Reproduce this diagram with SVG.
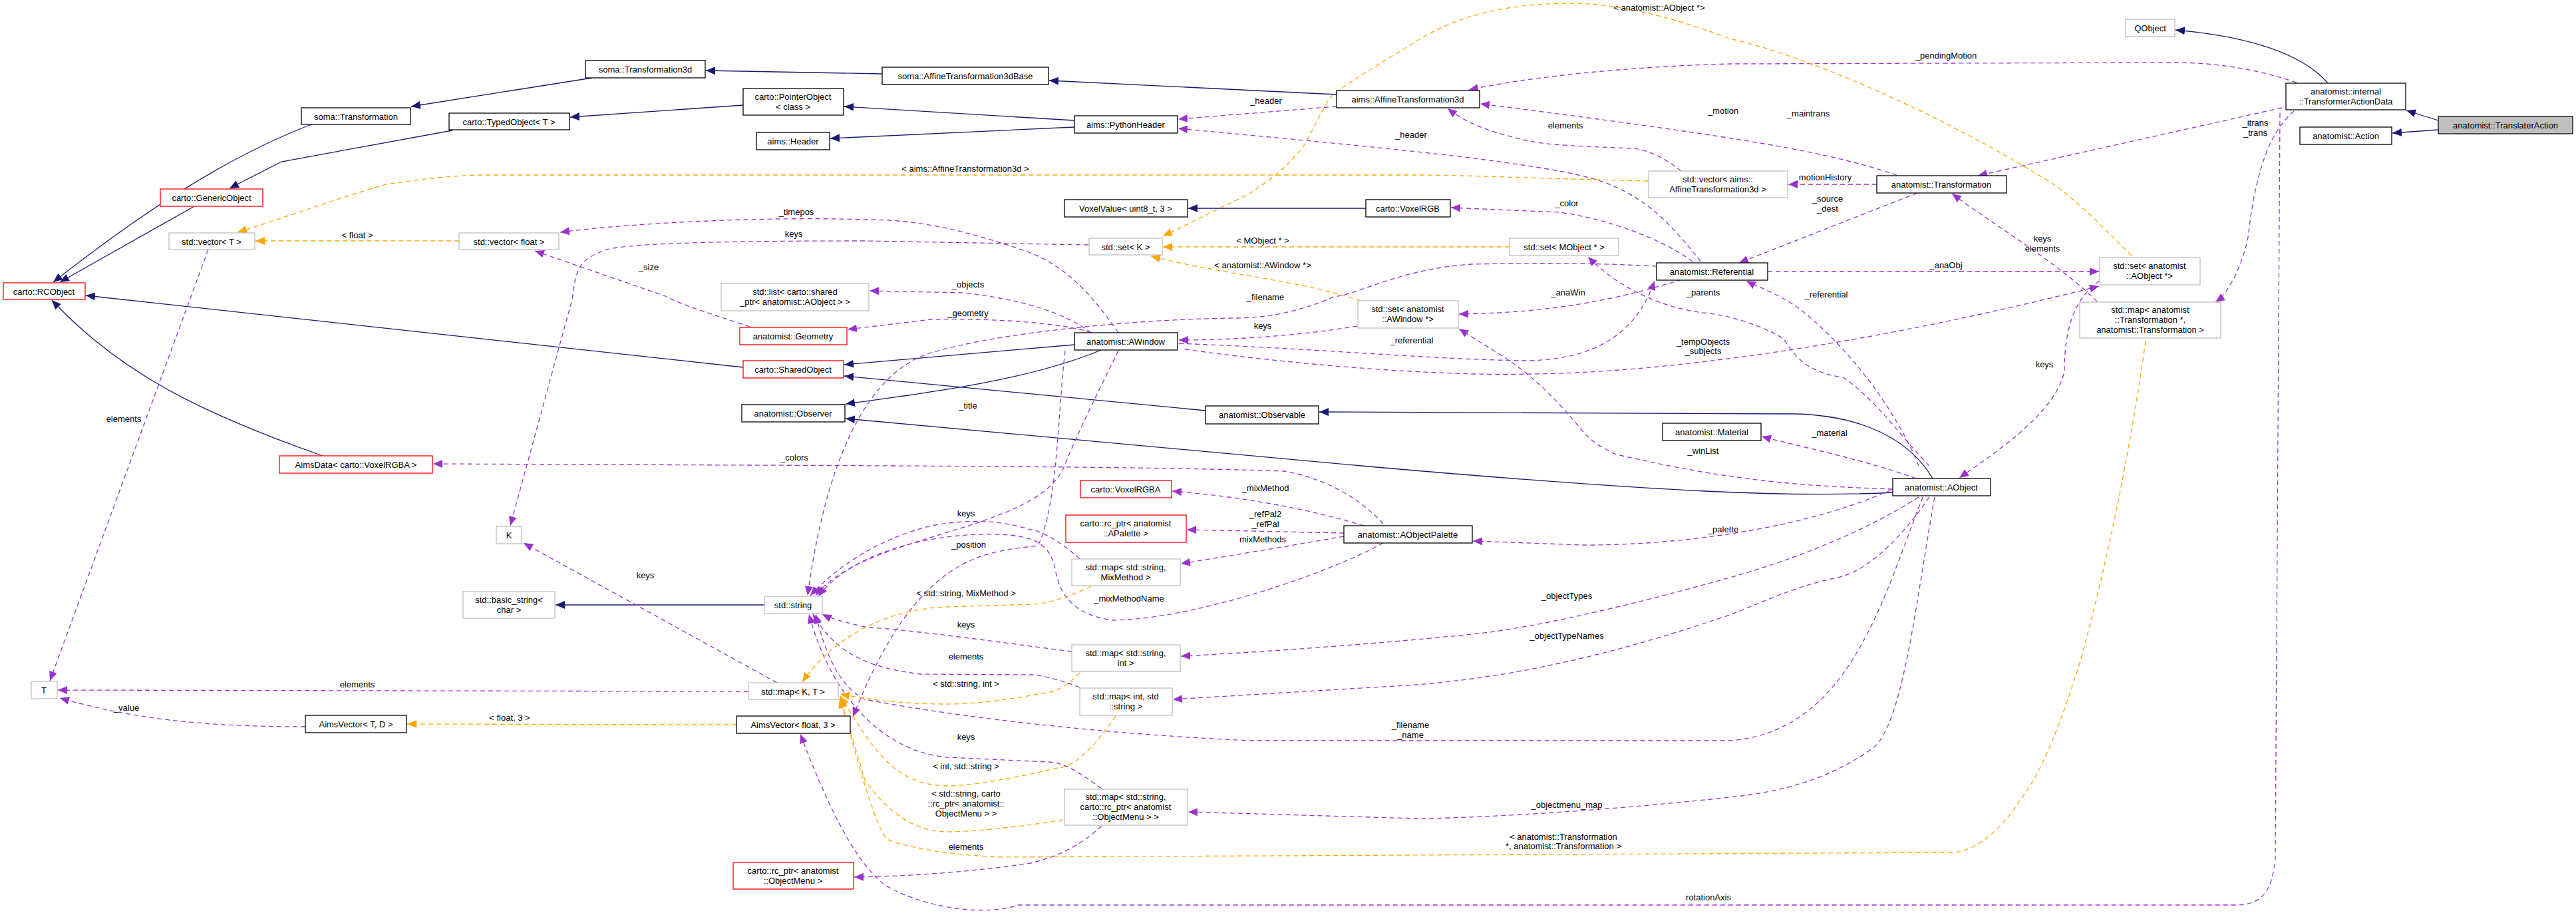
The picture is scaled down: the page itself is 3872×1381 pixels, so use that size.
<svg xmlns="http://www.w3.org/2000/svg" width="3872" height="1381" viewBox="0 0 3872 1381">
<style>
.n rect{fill:#fff;stroke:#000;stroke-width:1.3}
.n.g rect{stroke:#bfbfbf}
.n.r rect{stroke:#ff0000}
.n.sel rect{fill:#bfbfbf}
text{font-family:"Liberation Sans",Arial,sans-serif;font-size:13px;fill:#000}
.n text{text-anchor:middle}
.l{text-anchor:middle}
.e path{fill:none}
.inh{stroke:#191970;stroke-width:1.3;marker-end:url(#mi)}
.use{stroke:#9a32cd;stroke-width:1.3;stroke-dasharray:7,5;marker-end:url(#mu)}
.tpl{stroke:#ffa500;stroke-width:1.3;stroke-dasharray:7,5;marker-end:url(#mt)}
</style>
<defs>
<marker id="mi" markerUnits="userSpaceOnUse" markerWidth="16" markerHeight="12" refX="14" refY="6" orient="auto"><path d="M0,0 L14,6 L0,12 z" fill="#191970"/></marker>
<marker id="mu" markerUnits="userSpaceOnUse" markerWidth="16" markerHeight="12" refX="14" refY="6" orient="auto"><path d="M0,0 L14,6 L0,12 z" fill="#9a32cd"/></marker>
<marker id="mt" markerUnits="userSpaceOnUse" markerWidth="16" markerHeight="12" refX="14" refY="6" orient="auto"><path d="M0,0 L14,6 L0,12 z" fill="#ffa500"/></marker>
</defs>
<rect width="3872" height="1381" fill="#fff"/>
<g id="edges" class="e">
<path class="inh" d="M3665,181 L3617,166"/>
<path class="inh" d="M3665,195 L3596,200"/>
<path class="inh" d="M3499,125 C3460,80 3380,55 3270,45"/>
<path class="inh" d="M2009,142 L1577,121"/>
<path class="inh" d="M1326,111 L1061,106"/>
<path class="inh" d="M890,117 L618,160"/>
<path class="inh" d="M468,187 C330,240 200,330 80,424"/>
<path class="inh" d="M1615,181 L1269,160"/>
<path class="inh" d="M1615,191 L1248,208"/>
<path class="inh" d="M1117,158 L857,176"/>
<path class="inh" d="M680,196 L423,243 L345,283"/>
<path class="inh" d="M292,310 L90,424"/>
<path class="inh" d="M1117,552 L129,444"/>
<path class="inh" d="M485,685 C300,620 180,560 78,451"/>
<path class="inh" d="M2053,313 L1786,313"/>
<path class="inh" d="M1615,518 L1269,548"/>
<path class="inh" d="M1655,526 C1550,570 1400,590 1271,607"/>
<path class="inh" d="M1812,617 L1269,565"/>
<path class="inh" d="M2905,719 C2870,660 2800,625 2700,622 L1983,619"/>
<path class="inh" d="M2845,740 C2700,748 2500,740 2046,700 L1271,629"/>
<path class="inh" d="M1149,909 L835,909"/>
<path class="use" d="M3452,124 C3380,100 3320,94 3265,94 L2600,96 C2450,100 2300,115 2208,135"/>
<path class="use" d="M3430,162 L2973,264"/>
<path class="use" d="M3448,167 C3410,200 3390,260 3379,357 C3370,400 3350,440 3330,454"/>
<path class="use" d="M3427,170 L3420,1290 C3415,1340 3400,1360 3360,1360 L1530,1360 C1490,1375 1400,1370 1330,1330 C1280,1290 1240,1200 1203,1103"/>
<path class="use" d="M2851,263 C2750,230 2650,210 2225,156"/>
<path class="use" d="M2821,277 L2688,277"/>
<path class="use" d="M2882,290 L2614,395"/>
<path class="use" d="M2527,257 C2500,235 2470,223 2452,223 C2400,220 2330,220 2290,210 C2250,200 2210,190 2176,163"/>
<path class="use" d="M2009,160 L1771,179"/>
<path class="use" d="M2556,393 C2500,320 2460,290 2400,270 C2300,240 2000,215 1771,193"/>
<path class="use" d="M2544,393 C2500,360 2420,330 2345,319 L2181,312"/>
<path class="use" d="M2657,408 L3155,408"/>
<path class="use" d="M2528,420 C2400,460 2300,470 2193,472"/>
<path class="use" d="M2900,700 C2860,660 2820,600 2770,567 C2720,560 2700,540 2681,509 C2650,490 2600,473 2560,470 C2480,460 2420,420 2387,386"/>
<path class="use" d="M2884,700 C2860,640 2800,540 2705,464 C2670,440 2640,430 2625,422"/>
<path class="use" d="M3152,453 C3100,400 3000,340 2934,291"/>
<path class="use" d="M3156,422 C3115,450 3103,500 3103,558 C3090,620 3000,680 2945,718"/>
<path class="use" d="M1781,525 C2000,555 2200,565 2300,562 C2500,560 2800,520 3155,430"/>
<path class="use" d="M1772,516 C2000,525 2150,540 2295,542 C2400,540 2460,500 2487,422"/>
<path class="use" d="M2040,490 C1950,505 1850,511 1772,511"/>
<path class="use" d="M2490,400 C2400,395 2300,395 2212,397 C2100,405 2050,440 2005,446 C1950,470 1900,478 1855,478 C1700,480 1500,500 1400,530 C1300,560 1240,700 1214,895"/>
<path class="use" d="M1636,368 L1300,362 C1100,362 950,365 912,375 C870,390 866,402 860,450 L767,790"/>
<path class="use" d="M1681,500 C1640,440 1600,400 1549,380 C1450,345 1380,330 1300,330 C1150,325 950,335 842,349"/>
<path class="use" d="M1127,491 C1080,475 1028,460 1000,445 L804,377"/>
<path class="use" d="M1640,500 C1600,470 1540,451 1450,440 L1307,437"/>
<path class="use" d="M1640,500 C1600,485 1490,478 1400,480 L1274,495"/>
<path class="use" d="M1681,527 C1650,590 1620,650 1600,700 C1560,800 1300,800 1226,895"/>
<path class="use" d="M1601,527 C1590,620 1590,760 1560,820 C1480,830 1380,830 1282,1077"/>
<path class="use" d="M2079,787 C2050,755 2000,720 1930,708 C1700,700 1300,700 651,697"/>
<path class="use" d="M2050,790 C1950,760 1850,745 1762,738"/>
<path class="use" d="M2020,801 L1784,796"/>
<path class="use" d="M2020,806 C1940,820 1850,835 1775,847"/>
<path class="use" d="M2079,816 C2000,860 1800,930 1673,932 C1620,925 1595,900 1587,860 C1580,820 1560,805 1500,803 C1400,800 1280,830 1230,896"/>
<path class="use" d="M2843,736 C2700,800 2500,820 2378,819 L2214,813"/>
<path class="use" d="M2880,719 C2800,690 2700,670 2648,656"/>
<path class="use" d="M2845,735 C2700,730 2600,722 2430,683 C2400,670 2390,660 2378,647 C2340,600 2300,560 2250,530 L2193,494"/>
<path class="use" d="M2884,747 C2800,800 2700,840 2600,868 C2450,910 2300,945 2212,953 C2100,965 1900,980 1775,986"/>
<path class="use" d="M2900,747 C2850,820 2800,860 2762,868 C2700,880 2650,905 2600,924 C2450,975 2300,1015 2129,1029 L1763,1051"/>
<path class="use" d="M2890,747 C2830,900 2780,1100 2600,1113 L1880,1113 C1600,1100 1400,1070 1300,1051 C1260,1030 1240,980 1226,923"/>
<path class="use" d="M2908,747 C2880,900 2860,1100 2811,1127 C2750,1170 2680,1190 2600,1198 C2400,1220 2200,1230 2129,1230 L1786,1220"/>
<path class="use" d="M1656,1241 C1620,1275 1580,1290 1549,1297 C1450,1312 1350,1317 1284,1318"/>
<path class="use" d="M1656,1185 C1620,1160 1600,1145 1574,1145 L1424,1138 C1330,1130 1250,1050 1216,923"/>
<path class="use" d="M1611,979 C1500,965 1400,950 1300,942 C1270,935 1250,930 1236,923"/>
<path class="use" d="M1623,1033 C1590,1020 1560,1014 1549,1014 L1383,1013 C1320,1005 1260,990 1222,923"/>
<path class="use" d="M1623,840 C1590,810 1560,796 1549,796 C1500,780 1449,781 1400,790 C1320,810 1260,850 1218,895"/>
<path class="use" d="M1168,1026 L787,816"/>
<path class="use" d="M1125,1039 L87,1037"/>
<path class="use" d="M459,1092 C300,1092 200,1080 90,1049"/>
<path class="use" d="M313,375 L75,1023"/>
<path class="tpl" d="M3204,384 C3160,340 3120,300 3087,277 C2900,160 2700,80 2600,58 C2500,20 2420,5 2361,5 C2250,5 2180,30 2129,62 C2050,110 2000,140 1996,152 C1980,180 1970,200 1963,214 C1930,260 1900,275 1880,290 L1748,355"/>
<path class="tpl" d="M2269,371 L1748,371"/>
<path class="tpl" d="M2045,452 C1950,420 1850,415 1730,385"/>
<path class="tpl" d="M2477,272 C2300,268 2200,263 2129,263 L721,263 C650,265 600,275 580,277 C500,300 420,330 357,349"/>
<path class="tpl" d="M690,362 L384,362"/>
<path class="tpl" d="M1107,1089 L612,1088"/>
<path class="tpl" d="M1640,881 C1600,900 1570,908 1549,908 L1424,912 C1330,915 1250,960 1206,1025"/>
<path class="tpl" d="M1623,1011 C1600,1035 1580,1042 1565,1042 C1500,1055 1450,1058 1424,1058 C1350,1058 1300,1050 1263,1043"/>
<path class="tpl" d="M1677,1076 C1640,1130 1610,1154 1590,1154 C1500,1175 1450,1181 1424,1181 C1340,1180 1310,1120 1263,1046"/>
<path class="tpl" d="M1598,1232 C1520,1245 1450,1250 1424,1250 C1360,1250 1320,1200 1300,1172 L1263,1048"/>
<path class="tpl" d="M3225,513 C3210,620 3180,800 3127,993 C3100,1080 3070,1160 3038,1200 C3000,1260 2960,1281 2933,1281 L1507,1288 C1420,1285 1350,1270 1333,1261 C1310,1230 1290,1140 1262,1050"/>
</g>
<g id="labels">
<text class="l" x="2925" y="88">_pendingMotion</text>
<text class="l" x="2718" y="175">_maintrans</text>
<text class="l" x="3390" y="189">_itrans</text>
<text class="l" x="3390" y="204">_trans</text>
<text class="l" x="2568" y="1353">rotationAxis</text>
<text class="l" x="2590" y="171">_motion</text>
<text class="l" x="2740" y="271">_motionHistory</text>
<text class="l" x="2747" y="303">_source</text>
<text class="l" x="2747" y="318">_dest</text>
<text class="l" x="2353" y="193">elements</text>
<text class="l" x="1903" y="156">_header</text>
<text class="l" x="2121" y="207">_header</text>
<text class="l" x="2355" y="310">_color</text>
<text class="l" x="2925" y="403">_anaObj</text>
<text class="l" x="2357" y="444">_anaWin</text>
<text class="l" x="2560" y="444">_parents</text>
<text class="l" x="2745" y="447">_referential</text>
<text class="l" x="3070" y="363">keys</text>
<text class="l" x="3070" y="378">elements</text>
<text class="l" x="3073" y="552">keys</text>
<text class="l" x="2560" y="518">_tempObjects</text>
<text class="l" x="2560" y="532">_subjects</text>
<text class="l" x="2122" y="516">_referential</text>
<text class="l" x="1898" y="494">keys</text>
<text class="l" x="1902" y="451">_filename</text>
<text class="l" x="1193" y="356">keys</text>
<text class="l" x="1197" y="323">_timepos</text>
<text class="l" x="975" y="406">_size</text>
<text class="l" x="1455" y="432">_objects</text>
<text class="l" x="1455" y="475">_geometry</text>
<text class="l" x="1455" y="614">_title</text>
<text class="l" x="1456" y="823">_position</text>
<text class="l" x="1194" y="692">_colors</text>
<text class="l" x="1902" y="738">_mixMethod</text>
<text class="l" x="1902" y="777">_refPal2</text>
<text class="l" x="1902" y="792">_refPal</text>
<text class="l" x="1898" y="815">mixMethods</text>
<text class="l" x="1697" y="904">_mixMethodName</text>
<text class="l" x="2590" y="800">_palette</text>
<text class="l" x="2750" y="655">_material</text>
<text class="l" x="2560" y="682">_winList</text>
<text class="l" x="2355" y="900">_objectTypes</text>
<text class="l" x="2355" y="960">_objectTypeNames</text>
<text class="l" x="2120" y="1094">_filename</text>
<text class="l" x="2120" y="1109">_name</text>
<text class="l" x="2355" y="1214">_objectmenu_map</text>
<text class="l" x="1452" y="1277">elements</text>
<text class="l" x="1452" y="1112">keys</text>
<text class="l" x="1452" y="943">keys</text>
<text class="l" x="1452" y="991">elements</text>
<text class="l" x="1452" y="776">keys</text>
<text class="l" x="970" y="869">keys</text>
<text class="l" x="537" y="1033">elements</text>
<text class="l" x="190" y="1068">_value</text>
<text class="l" x="186" y="634">elements</text>
<text class="l" x="2494" y="16">&lt; anatomist::AObject *&gt;</text>
<text class="l" x="1898" y="366">&lt; MObject * &gt;</text>
<text class="l" x="1898" y="403">&lt; anatomist::AWindow *&gt;</text>
<text class="l" x="1451" y="258">&lt; aims::AffineTransformation3d &gt;</text>
<text class="l" x="537" y="358">&lt; float &gt;</text>
<text class="l" x="766" y="1083">&lt; float, 3 &gt;</text>
<text class="l" x="1452" y="896">&lt; std::string, MixMethod &gt;</text>
<text class="l" x="1452" y="1032">&lt; std::string, int &gt;</text>
<text class="l" x="1452" y="1156">&lt; int, std::string &gt;</text>
<text class="l" x="1452" y="1197">&lt; std::string, carto</text>
<text class="l" x="1452" y="1212">::rc_ptr&lt; anatomist::</text>
<text class="l" x="1452" y="1227">ObjectMenu &gt; &gt;</text>
<text class="l" x="2350" y="1262">&lt; anatomist::Transformation</text>
<text class="l" x="2350" y="1276">*, anatomist::Transformation &gt;</text>
</g>
<g id="n_translater" class="n sel"><rect x="3665" y="175" width="202" height="26"/><text x="3766" y="193">anatomist::TranslaterAction</text></g>
<g id="n_tad" class="n"><rect x="3436" y="125" width="180" height="40"/><text x="3526" y="142">anatomist::internal</text><text x="3526" y="157">::TransformerActionData</text></g>
<g id="n_action" class="n"><rect x="3457" y="191" width="138" height="26"/><text x="3526" y="209">anatomist::Action</text></g>
<g id="n_qobject" class="n g"><rect x="3195" y="29" width="74" height="26"/><text x="3232" y="47">QObject</text></g>
<g id="n_transformation" class="n"><rect x="2821" y="264" width="195" height="26"/><text x="2918" y="282">anatomist::Transformation</text></g>
<g id="n_setaobj" class="n g"><rect x="3156" y="387" width="151" height="41"/><text x="3231" y="404">std::set&lt; anatomist</text><text x="3231" y="419">::AObject *&gt;</text></g>
<g id="n_maptrans" class="n g"><rect x="3126" y="454" width="212" height="54"/><text x="3232" y="470">std::map&lt; anatomist</text><text x="3232" y="485">::Transformation *,</text><text x="3232" y="500">anatomist::Transformation &gt;</text></g>
<g id="n_aobject" class="n"><rect x="2845" y="719" width="147" height="26"/><text x="2918" y="737">anatomist::AObject</text></g>
<g id="n_referential" class="n"><rect x="2490" y="395" width="167" height="26"/><text x="2573" y="413">anatomist::Referential</text></g>
<g id="n_material" class="n"><rect x="2499" y="636" width="148" height="26"/><text x="2573" y="654">anatomist::Material</text></g>
<g id="n_vecaff" class="n g"><rect x="2478" y="257" width="209" height="40"/><text x="2582" y="274">std::vector&lt; aims::</text><text x="2582" y="289">AffineTransformation3d &gt;</text></g>
<g id="n_aff3d" class="n"><rect x="2009" y="136" width="215" height="26"/><text x="2116" y="154">aims::AffineTransformation3d</text></g>
<g id="n_aff3dbase" class="n"><rect x="1326" y="101" width="250" height="26"/><text x="1451" y="119">soma::AffineTransformation3dBase</text></g>
<g id="n_pyheader" class="n"><rect x="1615" y="174" width="155" height="26"/><text x="1692" y="192">aims::PythonHeader</text></g>
<g id="n_voxelvalue" class="n"><rect x="1600" y="300" width="185" height="26"/><text x="1692" y="318">VoxelValue&lt; uint8_t, 3 &gt;</text></g>
<g id="n_voxelrgb" class="n"><rect x="2053" y="300" width="127" height="26"/><text x="2116" y="318">carto::VoxelRGB</text></g>
<g id="n_setk" class="n g"><rect x="1637" y="358" width="110" height="25"/><text x="1692" y="376">std::set&lt; K &gt;</text></g>
<g id="n_setmobj" class="n g"><rect x="2269" y="358" width="164" height="26"/><text x="2351" y="376">std::set&lt; MObject * &gt;</text></g>
<g id="n_setawin" class="n g"><rect x="2041" y="452" width="151" height="41"/><text x="2116" y="469">std::set&lt; anatomist</text><text x="2116" y="484">::AWindow *&gt;</text></g>
<g id="n_awindow" class="n"><rect x="1615" y="500" width="155" height="26"/><text x="1692" y="518">anatomist::AWindow</text></g>
<g id="n_observable" class="n"><rect x="1812" y="610" width="170" height="27"/><text x="1897" y="628">anatomist::Observable</text></g>
<g id="n_transf3d" class="n"><rect x="880" y="91" width="180" height="26"/><text x="970" y="109">soma::Transformation3d</text></g>
<g id="n_transf" class="n"><rect x="453" y="162" width="164" height="25"/><text x="535" y="180">soma::Transformation</text></g>
<g id="n_pointer" class="n"><rect x="1117" y="133" width="151" height="40"/><text x="1192" y="150">carto::PointerObject</text><text x="1192" y="165">&lt; class &gt;</text></g>
<g id="n_typed" class="n"><rect x="675" y="170" width="181" height="25"/><text x="765" y="188">carto::TypedObject&lt; T &gt;</text></g>
<g id="n_header" class="n"><rect x="1137" y="199" width="110" height="26"/><text x="1192" y="217">aims::Header</text></g>
<g id="n_generic" class="n r"><rect x="241" y="284" width="154" height="26"/><text x="318" y="302">carto::GenericObject</text></g>
<g id="n_vect" class="n g"><rect x="254" y="350" width="129" height="25"/><text x="318" y="368">std::vector&lt; T &gt;</text></g>
<g id="n_vecfloat" class="n g"><rect x="690" y="350" width="150" height="25"/><text x="765" y="368">std::vector&lt; float &gt;</text></g>
<g id="n_rcobject" class="n r"><rect x="5" y="425" width="123" height="25"/><text x="66" y="443">carto::RCObject</text></g>
<g id="n_list" class="n g"><rect x="1084" y="426" width="222" height="41"/><text x="1195" y="443">std::list&lt; carto::shared</text><text x="1195" y="458">_ptr&lt; anatomist::AObject &gt; &gt;</text></g>
<g id="n_geometry" class="n r"><rect x="1112" y="492" width="161" height="26"/><text x="1192" y="510">anatomist::Geometry</text></g>
<g id="n_shared" class="n r"><rect x="1117" y="542" width="151" height="26"/><text x="1192" y="560">carto::SharedObject</text></g>
<g id="n_observer" class="n"><rect x="1115" y="608" width="155" height="26"/><text x="1192" y="626">anatomist::Observer</text></g>
<g id="n_aimsdata" class="n r"><rect x="420" y="685" width="230" height="26"/><text x="535" y="703">AimsData&lt; carto::VoxelRGBA &gt;</text></g>
<g id="n_voxelrgba" class="n r"><rect x="1624" y="722" width="137" height="26"/><text x="1692" y="740">carto::VoxelRGBA</text></g>
<g id="n_rcpal" class="n r"><rect x="1602" y="774" width="181" height="41"/><text x="1692" y="791">carto::rc_ptr&lt; anatomist</text><text x="1692" y="806">::APalette &gt;</text></g>
<g id="n_palette" class="n"><rect x="2020" y="790" width="193" height="26"/><text x="2116" y="808">anatomist::AObjectPalette</text></g>
<g id="n_mapmix" class="n g"><rect x="1611" y="840" width="163" height="40"/><text x="1692" y="857">std::map&lt; std::string,</text><text x="1692" y="872">MixMethod &gt;</text></g>
<g id="n_mapsi" class="n g"><rect x="1611" y="969" width="163" height="40"/><text x="1692" y="986">std::map&lt; std::string,</text><text x="1692" y="1001">int &gt;</text></g>
<g id="n_mapis" class="n g"><rect x="1623" y="1034" width="139" height="41"/><text x="1692" y="1051">std::map&lt; int, std</text><text x="1692" y="1066">::string &gt;</text></g>
<g id="n_mapmenu" class="n g"><rect x="1600" y="1186" width="185" height="54"/><text x="1692" y="1202">std::map&lt; std::string,</text><text x="1692" y="1217">carto::rc_ptr&lt; anatomist</text><text x="1692" y="1232">::ObjectMenu &gt; &gt;</text></g>
<g id="n_k" class="n g"><rect x="746" y="791" width="38" height="26"/><text x="765" y="809">K</text></g>
<g id="n_basicstr" class="n g"><rect x="696" y="889" width="138" height="40"/><text x="765" y="906">std::basic_string&lt;</text><text x="765" y="921">char &gt;</text></g>
<g id="n_string" class="n g"><rect x="1149" y="896" width="87" height="26"/><text x="1192" y="914">std::string</text></g>
<g id="n_t" class="n g"><rect x="47" y="1024" width="39" height="26"/><text x="66" y="1042">T</text></g>
<g id="n_mapkt" class="n g"><rect x="1125" y="1026" width="135" height="25"/><text x="1192" y="1044">std::map&lt; K, T &gt;</text></g>
<g id="n_aimsvtd" class="n"><rect x="459" y="1075" width="152" height="26"/><text x="535" y="1093">AimsVector&lt; T, D &gt;</text></g>
<g id="n_aimsvf3" class="n"><rect x="1107" y="1076" width="171" height="26"/><text x="1192" y="1094">AimsVector&lt; float, 3 &gt;</text></g>
<g id="n_rcmenu" class="n r"><rect x="1102" y="1296" width="181" height="40"/><text x="1192" y="1313">carto::rc_ptr&lt; anatomist</text><text x="1192" y="1328">::ObjectMenu &gt;</text></g>
</svg>
